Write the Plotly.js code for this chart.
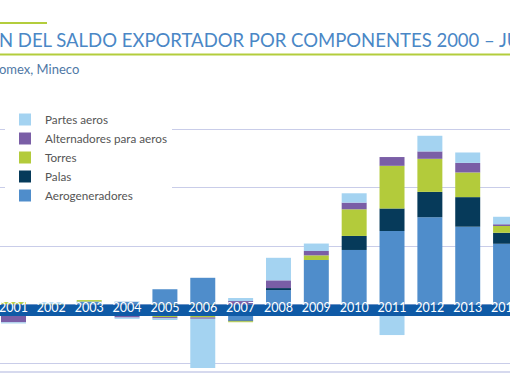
<!DOCTYPE html>
<html>
<head>
<meta charset="utf-8">
<script src="https://cdn.plot.ly/plotly-3.0.1.min.js"></script>
<style>html,body{margin:0;padding:0;background:#fff;}#chart{width:510px;height:382px;}</style>
</head>
<body>
<div id="chart"></div>
<script>
// ---- data (visible years 2001–2014) ----
var years = ['2001','2002','2003','2004','2005','2006','2007','2008','2009','2010','2011','2012','2013','2014'];
var aerogeneradores = [0, 0, 26, 24, 131, 229, -137, 124, 381, 467, 629, 747, 666, 520];
var palas           = [0, 0, 0, 0, 0, 0, -6, 17, 0, 120, 193, 217, 253, 94];
var torres          = [21, 6, 12, 0, -107, -110, -8, 0, 40, 228, 365, 283, 211, 58];
var alternadores    = [-152, 0, 0, -111, -11, -12, 30, 66, 37, 57, 75, 63, 82, 15];
var partes          = [-10, 14, 0, -11, -14, -420, 26, 193, 64, 80, -261, 134, 89, 64];

var titleText = 'N DEL SALDO EXPORTADOR POR COMPONENTES 2000 – JU';
var subtitleText = 'omex, Mineco';

// ---- styles ----
var FONT = 'Lato, "Noto Sans", sans-serif';
var colors = {
  aero: '#4f8dcb', palas: '#063a5a', torres: '#b3cb3b', alt: '#7a5ea6', partes: '#a4d3f1'
};
var GRID = '#c9cde9';
var BAND = '#0f5aa6';
var BAND_DEPTH = -98; // value units below zero covered by the label band

function barTrace(name, vals, color) {
  return {type: 'bar', name: name, x: years, y: vals,
          marker: {color: color, line: {width: 0}}, hoverinfo: 'x+y+name'};
}

var data = [
  barTrace('Aerogeneradores', aerogeneradores, colors.aero),
  barTrace('Palas', palas, colors.palas),
  barTrace('Torres', torres, colors.torres),
  barTrace('Alternadores para aeros', alternadores, colors.alt),
  barTrace('Partes aeros', partes, colors.partes),
  {type: 'scatter', x: [0, 1], y: [BAND_DEPTH, BAND_DEPTH], xaxis: 'x2', yaxis: 'y',
   mode: 'none', fill: 'tozeroy', fillcolor: BAND, showlegend: false, hoverinfo: 'skip'}
];

var H = 382, T = 100, B = 10, PH = H - T - B;
function py(pix) { return (H - B - pix) / PH; }

var layout = {
  width: 510, height: 382,
  margin: {l: 0, r: 0, t: T, b: B, pad: 0},
  paper_bgcolor: '#fff', plot_bgcolor: '#fff',
  barmode: 'relative', bargap: 0.34,
  font: {family: FONT, color: '#555'},
  showlegend: true,
  legend: {x: 5/510, xanchor: 'left', y: py(105), yanchor: 'top', traceorder: 'reversed',
           bgcolor: '#fff', font: {family: FONT, size: 11.7, color: '#555'}, tracegroupgap: 0},
  xaxis: {type: 'category', range: [-0.357, 13.117], anchor: 'free', position: py(298),
          showgrid: false, zeroline: false, showline: false, ticks: '',
          tickfont: {family: FONT, size: 12.5, color: '#fff'}, fixedrange: true},
  xaxis2: {overlaying: 'x', range: [0, 1], visible: false, fixedrange: true},
  yaxis: {range: [-577, 1750], dtick: 500, tick0: 0, showgrid: true, gridcolor: GRID, gridwidth: 1,
          zeroline: false, showticklabels: false, ticks: '', showline: false, fixedrange: true},
  shapes: [
    {type: 'line', xref: 'paper', yref: 'paper', x0: 0, x1: 1, y0: 0, y1: 0, line: {color: GRID, width: 1.5}},
    {type: 'line', xref: 'paper', yref: 'paper', x0: 0, x1: 1, y0: py(54.5), y1: py(54.5), line: {color: '#b3cd3c', width: 2}},
    {type: 'line', xref: 'paper', yref: 'paper', x0: 0, x1: 47/510, y0: py(23), y1: py(23), line: {color: '#b3cd3c', width: 2}}
  ],
  annotations: [
    {xref: 'paper', yref: 'paper', x: 0, y: py(40), xanchor: 'left', yanchor: 'middle', xshift: -3,
     text: titleText, showarrow: false, font: {family: FONT, size: 18.5, color: '#4a87c6'}},
    {xref: 'paper', yref: 'paper', x: 0, y: py(69), xanchor: 'left', yanchor: 'middle', xshift: -3,
     text: subtitleText, showarrow: false, font: {family: FONT, size: 13, color: '#4f78a6'}}
  ]
};

Plotly.newPlot('chart', data, layout, {displayModeBar: false, staticPlot: true});
</script>
</body>
</html>
